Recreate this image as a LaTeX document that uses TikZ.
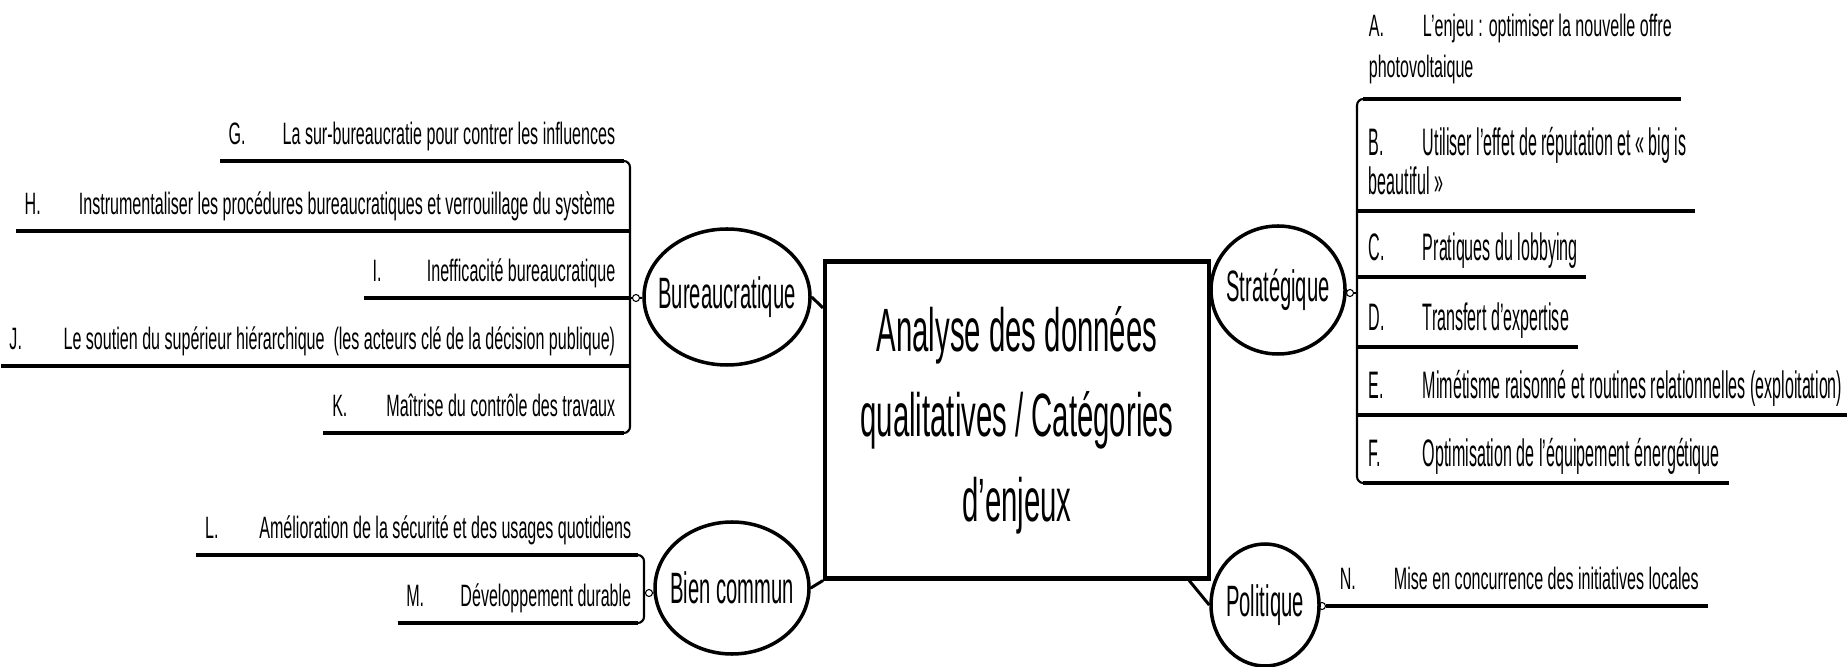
\documentclass[tikz,border=0pt]{standalone}
\usepackage{fontspec}
\usetikzlibrary{shapes.geometric,calc}
\newfontfamily\boxfont[FakeStretch=0.48]{Liberation Sans}
\newfontfamily\catfont[FakeStretch=0.46]{Liberation Sans}
\newfontfamily\leaffont[FakeStretch=0.52]{Liberation Sans}
\newfontfamily\leafbig[FakeStretch=0.42]{Liberation Sans}
\newcommand{\lbl}[1]{\makebox[15.4pt][l]{#1}}
\newcommand{\cattext}[1]{\makebox[0pt]{#1}}

\begin{document}
\begin{tikzpicture}[x=0.1mm, y=-0.1mm,
  cat/.style={ellipse, draw, line width=1pt, inner sep=0pt, font=\catfont\fontsize{12.5}{14}\selectfont},
  leaf/.style={inner xsep=2.3pt, inner ysep=0pt, text depth=4.5pt, align=left, font=\leaffont\fontsize{8.8}{11.7}\selectfont},
  bigleaf/.style={leaf, font=\leafbig\fontsize{10.9}{10}\selectfont},
  uline/.style={line width=1.3pt},
  brace/.style={line width=0.6pt, rounded corners=1.8pt},
  link/.style={line width=0.85pt},
  dot/.style={circle, draw, line width=0.3pt, minimum size=2pt, inner sep=0pt}]

\useasboundingbox (0,0) rectangle (1847,667);

% Center box
\node[draw, line width=1.15pt, minimum width=3.84cm, minimum height=3.17cm, align=center,
  font=\boxfont\fontsize{17.4}{24.2}\selectfont] (box) at (1017,420)
  {Analyse des données\\qualitatives / Catégories\\d’enjeux};

% Categories
\node[cat, minimum width=1.66cm, minimum height=1.36cm] (bur) at (727,297) {\cattext{Bureaucratique}};
\node[cat, minimum width=1.34cm, minimum height=1.28cm] (strat) at (1278,290) {\cattext{Stratégique}};
\node[cat, minimum width=1.54cm, minimum height=1.32cm] (bien) at (732,588) {\cattext{Bien commun}};
\node[cat, minimum width=1.08cm, minimum height=1.22cm] (pol) at (1265,605) {\cattext{Politique}};

\draw[link] (bur.east) -- (box.150);
\draw[link] (bien.east) -- (box.south west);
\draw[link] (box.-43) -- (pol.west);
\draw[link] (strat.west) -- (strat.west -| box.east);

% Bureaucratique
\node[leaf, anchor=south east] (g) at (624,161) {\lbl{G.}La sur-bureaucratie pour contrer les influences};
\node[leaf, anchor=south east] (h) at (624,231) {\lbl{H.}Instrumentaliser les procédures bureaucratiques et verrouillage du système};
\node[leaf, anchor=south east] (i) at (624,298) {\lbl{I.}Inefficacité bureaucratique};
\node[leaf, anchor=south east] (j) at (624,366) {\lbl{J.}Le soutien du supérieur hiérarchique~ (les acteurs clé de la décision publique)};
\node[leaf, anchor=south east] (k) at (624,433) {\lbl{K.}Maîtrise du contrôle des travaux};
\coordinate (bx) at (630,298);
\node[dot] (bdot) at (636,298) {};

\draw[brace] ($(g.south -| bx)+(-8,0)$) -- (g.south -| bx) -- (k.south -| bx) -- ($(k.south -| bx)+(-8,0)$);
\draw[uline] (g.south west) -- ($(g.south -| bx)+(-6,0)$);
\draw[uline] (h.south west) -- (h.south -| bx);
\draw[uline] (i.south west) -- (i.south -| bx);
\draw[uline] (j.south west) -- (j.south -| bx);
\draw[uline] (k.south west) -- ($(k.south -| bx)+(-6,0)$);
\draw[brace] (bx) -- (bdot);
\draw[brace] (bdot) -- (bur);

% Strategique
\node[leaf, anchor=south west, text depth=6pt] (a) at (1360,99) {\lbl{A.}L’enjeu : optimiser la nouvelle offre\\photovoltaique};
\node[bigleaf, anchor=south west] (b) at (1360,211) {\lbl{B.}Utiliser l’effet de réputation et «~big is\\beautiful~»};
\node[bigleaf, anchor=south west] (c) at (1360,277) {\lbl{C.}Pratiques du lobbying};
\node[bigleaf, anchor=south west] (d) at (1360,347) {\lbl{D.}Transfert d’expertise};
\node[bigleaf, anchor=south west] (e) at (1360,415) {\lbl{E.}Mimétisme raisonné et routines relationnelles (exploitation)};
\node[bigleaf, anchor=south west] (f) at (1360,483) {\lbl{F.}Optimisation de l’équipement énergétique};
\coordinate (sx) at (1357,293);
\node[dot] (sdot) at (1350,293) {};

\draw[brace] ($(a.south -| sx)+(8,0)$) -- (a.south -| sx) -- (f.south -| sx) -- ($(f.south -| sx)+(8,0)$);
\draw[uline] ($(a.south -| sx)+(6,0)$) -- (a.south east);
\draw[uline] (b.south -| sx) -- (b.south east);
\draw[uline] (c.south -| sx) -- (c.south east);
\draw[uline] (d.south -| sx) -- (d.south east);
\draw[uline] (e.south -| sx) -- (e.south east);
\draw[uline] ($(f.south -| sx)+(6,0)$) -- (f.south east);
\draw[brace] (sx) -- (sdot);
\draw[brace] (sdot) -- (strat);

% Bien commun
\node[leaf, anchor=south east] (l) at (640,555) {\lbl{L.}Amélioration de la sécurité et des usages quotidiens};
\node[leaf, anchor=south east] (m) at (640,623) {\lbl{M.}Développement durable};
\coordinate (cx) at (644,593);
\node[dot] (cdot) at (649,593) {};

\draw[brace] ($(l.south -| cx)+(-8,0)$) -- (l.south -| cx) -- (m.south -| cx) -- ($(m.south -| cx)+(-8,0)$);
\draw[uline] (l.south west) -- ($(l.south -| cx)+(-6,0)$);
\draw[uline] (m.south west) -- ($(m.south -| cx)+(-6,0)$);
\draw[brace] (cx) -- (cdot);
\draw[brace] (cdot) -- (bien);

% Politique
\node[leaf, anchor=south west] (n) at (1331,606) {\lbl{N.}Mise en concurrence des initiatives locales};
\node[dot] (pdot) at (1322,606) {};

\draw[uline] (pdot.east) -- (n.south east);
\draw[brace] (pdot) -- (pol);

\end{tikzpicture}
\end{document}
